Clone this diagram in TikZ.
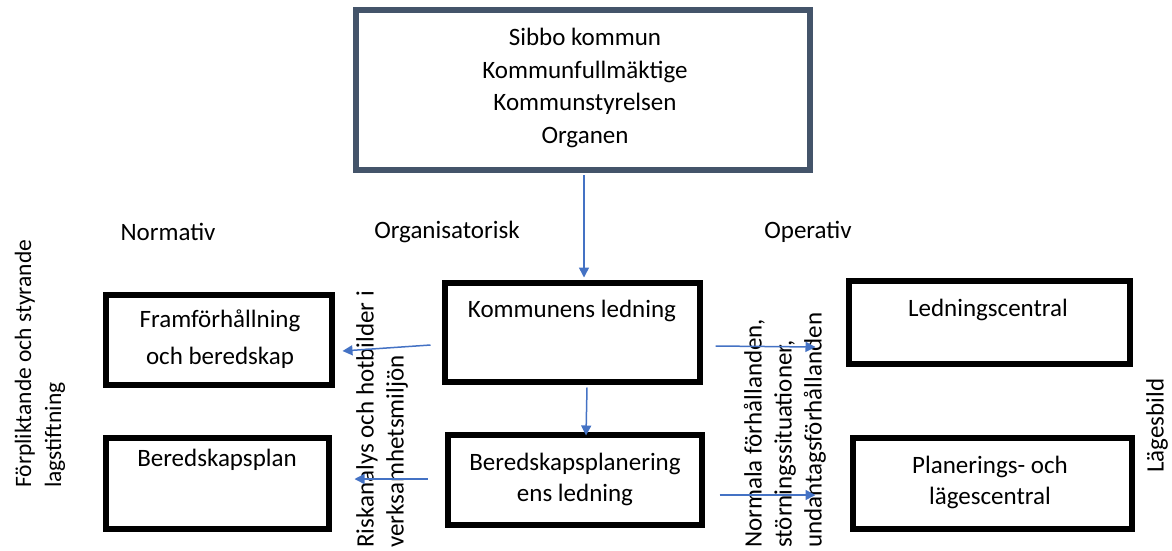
\documentclass[tikz,border=0pt]{standalone}
\usepackage{fontspec}
\setmainfont{Carlito}
\usetikzlibrary{arrows.meta}

\definecolor{pilbla}{HTML}{4472C4}
\definecolor{skiffer}{HTML}{44546A}

\tikzset{
  ruta/.style={draw=black, line width=6pt, minimum width=#1, inner sep=0pt},
  txt/.style={font=\fontsize{25}{31}\selectfont, align=center, inner sep=0pt},
  vtxt/.style={font=\fontsize{25}{30}\selectfont, align=left, inner sep=0pt, rotate=90, anchor=west},
  pil/.style={draw=pilbla, line width=1.5pt, -{Triangle[length=10pt,width=10pt]}}
}

\begin{document}
\begin{tikzpicture}[x=1pt, y=-1pt]
    \useasboundingbox (0,0) rectangle (1172,550);
    \clip (0,0) rectangle (1172,550);

    % kommunen
    \node[ruta=454pt, draw=skiffer, line width=5.5pt, minimum height=160pt] (kommun) at (583,90) {};
    \node[txt, font=\fontsize{25}{32.5}\selectfont] (kommuntxt) at (585,88)
      {Sibbo kommun\\Kommunfullmäktige\\Kommunstyrelsen\\Organen};

    % rubriker
    \node[txt] (normativ) at (168,232) {Normativ};
    \node[txt] (org) at (447,232) {Organisatorisk};
    \node[txt] (operativ) at (808,232) {Operativ};

    % organisatorisk
    \node[ruta=255pt, minimum height=99pt] (ledning) at (572.5,332.5) {};
    \node[txt] (ledningtxt) at (572,311) {Kommunens ledning};

    \node[ruta=254pt, minimum height=90pt] (berled) at (575,480) {};
    \node[txt] (berledtxt) at (575,479) {Beredskapsplanering\\ens ledning};

    % normativ
    \node[ruta=226pt, minimum height=90pt] (fram) at (219,340) {};
    \node[txt, font=\fontsize{25}{37}\selectfont] (framtxt) at (220,339) {Framförhållning\\och beredskap};

    \node[ruta=223pt, minimum height=91pt] (plan) at (217.5,483.5) {};
    \node[txt] (plantxt) at (217,460) {Beredskapsplan};

    % operativ
    \node[ruta=281pt, minimum height=83pt] (central) at (989.5,322.5) {};
    \node[txt] (centraltxt) at (988,310) {Ledningscentral};

    \node[ruta=279pt, minimum height=91pt] (lage) at (992.5,483.5) {};
    \node[txt] (lagetxt) at (990,482) {Planerings- och\\lägescentral};

    % lodräta texter
    \node[vtxt, font=\fontsize{23.5}{30}\selectfont] (lag) at (40,488) {Förpliktande och styrande\\lagstiftning};
    \node[vtxt] (risk) at (382,548) {Riskanalys och hotbilder i\\verksamhetsmiljön};
    \node[vtxt] (forh) at (785,548) {Normala förhållanden,\\störningssituationer,\\undantagsförhållanden};
    \node[vtxt] (bild) at (1157,473) {Lägesbild};

    % pilar
    \draw[pil] ([xshift=1pt,yshift=-2.5pt]kommun.south) -- ([xshift=11.5pt,yshift=2.5pt]ledning.north);
    \draw[pil] ([xshift=14.5pt,yshift=-2.5pt]ledning.south) -- ([xshift=11pt,yshift=-3.5pt]berled.north);
    \draw[pil] ([xshift=-11.5pt,yshift=-12.5pt]ledning.west) -- ([xshift=7.5pt,yshift=-11pt]fram.east);
    \draw[pil] ([xshift=-17.5pt,yshift=1pt]berled.west) -- ([xshift=22.5pt,yshift=4.5pt]plan.east);
    \draw[pil] ([xshift=12.5pt,yshift=-13.5pt]ledning.east) -- ([xshift=-30.5pt,yshift=-24.5pt]central.west);
    \draw[pil] ([xshift=14.5pt,yshift=-15pt]berled.east) -- ([xshift=-34.5pt,yshift=-11.5pt]lage.west);
\end{tikzpicture}
\end{document}
